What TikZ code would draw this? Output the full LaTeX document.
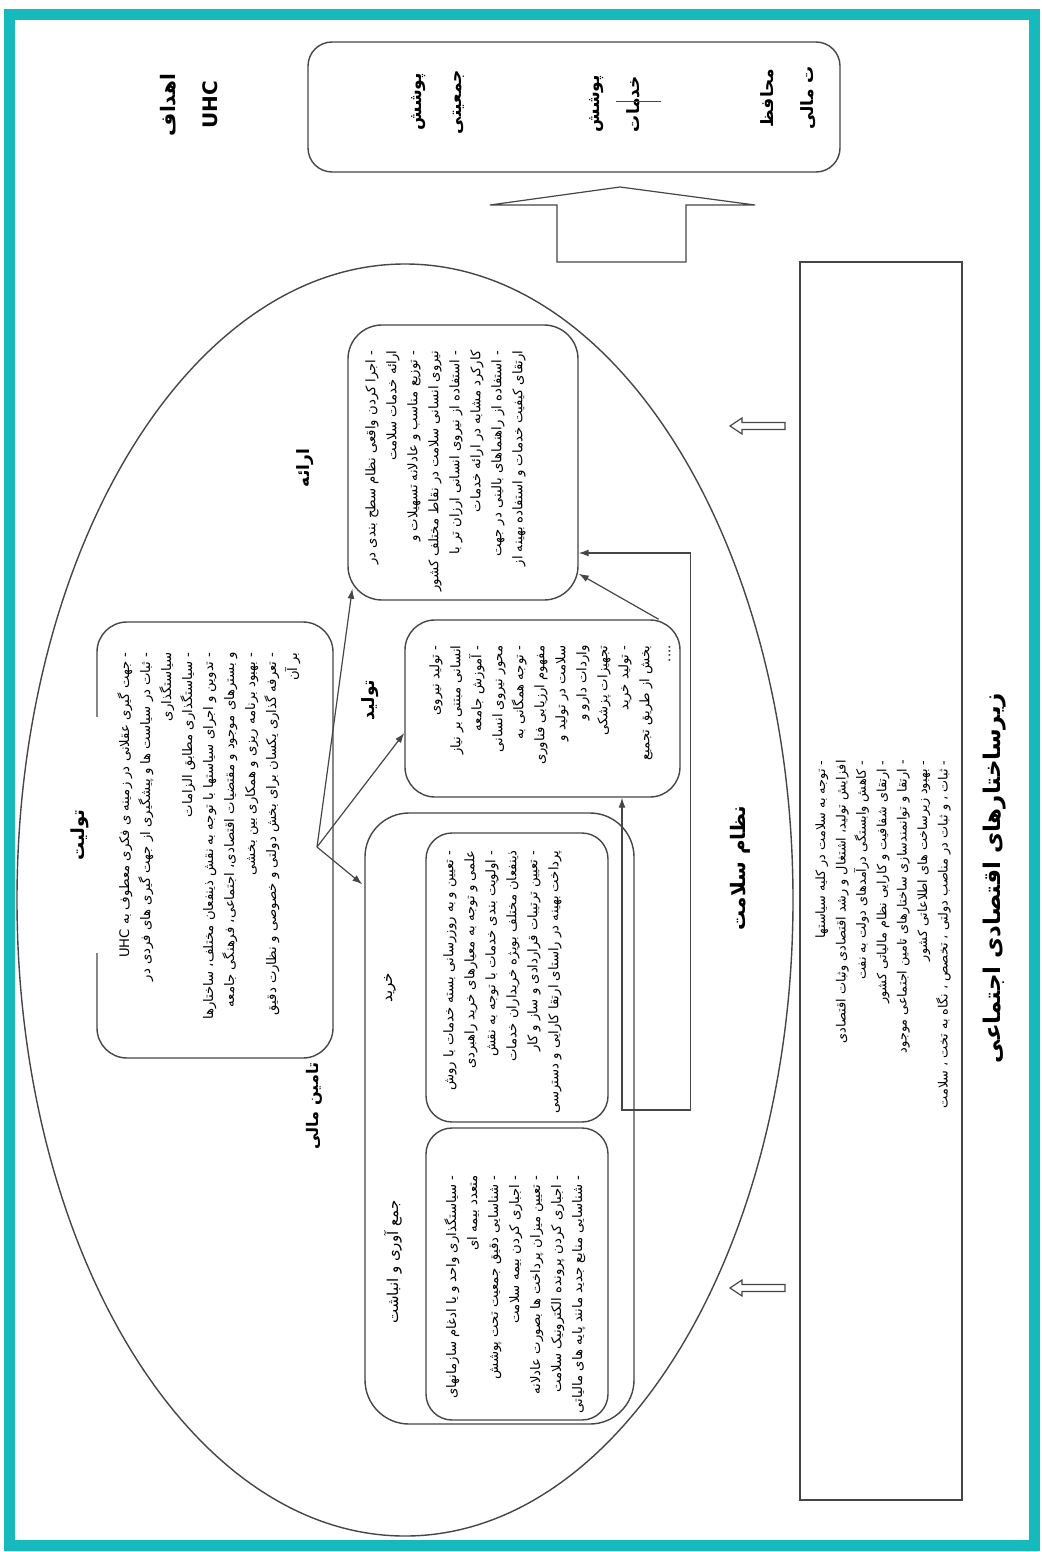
\documentclass[tikz,border=0pt]{standalone}
\usepackage{fontspec}
\usetikzlibrary{arrows.meta,shapes.geometric,calc}
\TeXXeTstate=1
\newfontfamily\fa[Script=Arabic]{DejaVu Sans}
\newcommand\myrl[1]{\beginR#1\endR}
\definecolor{framecol}{RGB}{23,186,188}
\definecolor{linecol}{RGB}{70,70,70}
\begin{document}
\begin{tikzpicture}[x=0.5pt,y=-0.5pt,
  rbox/.style={draw=linecol, line width=0.7pt, inner sep=0},
  txt/.style={font=\fa\fontsize{6.6}{10.5}\selectfont, align=right, rotate=90, inner sep=0, anchor=north east},
  lab/.style={font=\fa\bfseries\fontsize{8.5}{10}\selectfont, rotate=90, inner sep=1pt},
  conn/.style={draw=linecol, line width=0.6pt, -{Latex[length=5pt,width=3.5pt]}},
  hollowarrow/.pic={\draw[linecol, line width=0.6pt] (0,-3.5) -- (-43,-3.5) -- (-43,-8) -- (-55,0) -- (-43,8) -- (-43,3.5) -- (0,3.5) -- cycle;}
]
\useasboundingbox (0,0) rectangle (1042,1552);
\fill[white] (0,0) rectangle (1042,1552);
\draw[framecol, line width=5.5pt] (9.5,14.5) rectangle (1034,1545);

% health system ellipse
\node[draw=linecol, line width=0.7pt, ellipse, minimum width=388pt, minimum height=636pt, inner sep=0] (ell) at (405,900) {};

% goals
\node[lab, font=\fa\bfseries\fontsize{10}{21}\selectfont, align=center] (goals-lbl) at (189,105) {\myrl{اهداف}\\UHC};
\node[rbox, rounded corners=12pt, minimum width=266pt, minimum height=65pt] (goals) at (574,107) {};
\node[lab, font=\fa\bfseries\fontsize{8.5}{20}\selectfont, align=center] (cov1) at (438,102) {\myrl{پوشش}\\\myrl{جمعیتی}};
\node[lab, font=\fa\bfseries\fontsize{8.5}{20}\selectfont, align=center] (cov2) at (615,104) {\myrl{پوشش}\\\myrl{خدمات}};
\node[lab, font=\fa\bfseries\fontsize{8.5}{20}\selectfont, align=center] (cov3) at (788,98) {\myrl{محافظ}\\\myrl{ت مالی}};
\draw[linecol, line width=0.5pt] ($(cov2)+(1,-2)$) -- ($(cov2)+(46,-2)$);

% big up arrow
\draw[linecol, line width=0.6pt] (557,262) -- (557,205) -- (490,205) -- (620,187) -- (755,205) -- (686,205) -- (686,262) -- cycle;

% socio-economic box
\node[draw=linecol, line width=1pt, minimum width=81pt, minimum height=619pt, inner sep=0] (socio) at (881,881) {};
\node[txt, font=\fa\fontsize{6.4}{10.2}\selectfont] (socio-txt) at (815,760) {%
\myrl{- توجه به سلامت در کلیه سیاستها}\\
\myrl{افزایش تولید، اشتغال و رشد اقتصادی وثبات اقتصادی}\\
\myrl{- کاهش وابستگی درآمدهای دولت به نفت}\\
\myrl{- ارتقای شفافیت و کارایی نظام مالیاتی کشور}\\
\myrl{- ارتقا و توانمندسازی ساختارهای تامین اجتماعی موجود}\\
\myrl{- بهبود زیرساخت های اطلاعاتی کشور}\\
\myrl{- ثبات ، و ثبات در مناصب دولتی ، تخصص ، نگاه به تخت ، سلامت}};
\node[lab, font=\fa\bfseries\fontsize{11.5}{13}\selectfont] (socio-lbl) at (995,878) {\myrl{زیرساختارهای اقتصادی اجتماعی}};
\pic at (785,426) {hollowarrow};
\pic at (785,1288) {hollowarrow};

\node[lab, font=\fa\bfseries\fontsize{10}{12}\selectfont] (hs-lbl) at (740,868) {\myrl{نظام سلامت}};

% stewardship
\node[rbox, rounded corners=15pt, minimum width=118pt, minimum height=218pt] (tolit) at (215,840) {};
\node[lab, fill=white, font=\fa\bfseries\fontsize{9}{11}\selectfont, minimum width=118pt, minimum height=22pt] (tolit-lbl) at (80,835) {\myrl{تولیت}};
\node[txt] (tolit-txt) at (117,652) {%
\myrl{- جهت گیری عقلانی در زمینه ی فکری معطوف به UHC}\\
\myrl{- ثبات در سیاست ها و پیشگیری از جهت گیری های فردی در}\\
\myrl{سیاستگذاری}\\
\myrl{- سیاستگذاری مطابق الزامات}\\
\myrl{- تدوین و اجرای سیاستها با توجه به نقش ذینفعان مختلف، ساختارها}\\
\myrl{و بسترهای موجود و مقتضیات اقتصادی، اجتماعی، فرهنگی جامعه}\\
\myrl{- بهبود برنامه ریزی و همکاری بین بخشی}\\
\myrl{- تعرفه گذاری یکسان برای بخش دولتی و خصوصی و نظارت دقیق}\\
\myrl{بر آن}};

% provision
\node[lab] (arae-lbl) at (305,468) {\myrl{ارائه}};
\node[rbox, rounded corners=17pt, minimum width=115pt, minimum height=137.5pt] (arae) at (463,462.5) {};
\node[txt] (arae-txt) at (365,350) {%
\myrl{- اجرا کردن واقعی نظام سطح بندی در}\\
\myrl{ارائه خدمات سلامت}\\
\myrl{- توزیع مناسب و عادلانه تسهیلات و}\\
\myrl{نیروی انسانی سلامت در نقاط مختلف کشور}\\
\myrl{- استفاده از نیروی انسانی ارزان تر با}\\
\myrl{کارکرد مشابه در ارائه خدمات}\\
\myrl{- استفاده از راهنماهای بالینی در جهت}\\
\myrl{ارتقای کیفیت خدمات و استفاده بهینه از}};

% generation
\node[lab] (tolid-lbl) at (370,700) {\myrl{تولید}};
\node[rbox, rounded corners=15pt, minimum width=137.5pt, minimum height=88.5pt] (tolid) at (542.5,708.5) {};
\node[txt] (tolid-txt) at (429,645) {%
\myrl{- تولید نیروی}\\
\myrl{انسانی مبتنی بر نیاز}\\
\myrl{- آموزش جامعه}\\
\myrl{محور نیروی انسانی}\\
\myrl{- توجه همگانی به}\\
\myrl{مفهوم ارزیابی فناوری}\\
\myrl{سلامت در تولید و}\\
\myrl{واردات دارو و}\\
\myrl{تجهیزات پزشکی}\\
\myrl{- تولید خرید}\\
\myrl{بخش از طریق تجمیع}\\
\myrl{....}};

% financing
\node[lab, font=\fa\bfseries\fontsize{8}{10}\selectfont] (tamin-lbl) at (314,1106) {\myrl{تامین مالی}};
\node[rbox, rounded corners=22pt, minimum width=134.5pt, minimum height=305.5pt] (tamin) at (499.5,1118.5) {};
\node[font=\fa\fontsize{7.5}{9}\selectfont, rotate=90, inner sep=1pt] (kharid-lbl) at (390,988) {\myrl{خرید}};
\node[font=\fa\fontsize{7.5}{9}\selectfont, rotate=90, inner sep=1pt] (jam-lbl) at (393,1262) {\myrl{جمع آوری و انباشت}};
\node[rbox, rounded corners=13pt, minimum width=91pt, minimum height=144.5pt] (kharid) at (517,977.5) {};
\node[rbox, rounded corners=13pt, minimum width=91pt, minimum height=146pt] (jam) at (517,1274) {};
\node[txt] (kharid-txt) at (443,850) {%
\myrl{- تعیین و به روزرسانی بسته خدمات با روش}\\
\myrl{علمی و توجه به معیارهای خرید راهبردی}\\
\myrl{- اولویت بندی خدمات با توجه به نقش}\\
\myrl{ذینفعان مختلف بویژه خریداران خدمات}\\
\myrl{- تعیین ترتیبات قراردادی و ساز و کار}\\
\myrl{پرداخت بهینه در راستای ارتقا کارایی و دسترسی}};
\node[txt] (jam-txt) at (444,1175) {%
\myrl{- سیاستگذاری واحد و یا ادغام سازمانهای}\\
\myrl{متعدد بیمه ای}\\
\myrl{- شناسایی دقیق جمعیت تحت پوشش}\\
\myrl{- اجباری کردن بیمه سلامت}\\
\myrl{- تعیین میزان پرداخت ها بصورت عادلانه}\\
\myrl{- اجباری کردن پرونده الکترونیک سلامت}\\
\myrl{- شناسایی منابع جدید مانند پایه های مالیاتی}};

% connectors
\coordinate (hub) at (317,847);
\draw[conn] (hub) -- ($(arae.south west)+(5,-12)$);
\draw[conn] (hub) -- ($(tolid.west)+(0,24.5)$);
\draw[conn] (hub) -- ($(tamin.north west)+(-2,72)$);
\draw[conn] ($(tolid.north east)+(-22,0)$) -- ($(arae.south east)+(0,-27)$);
\coordinate (loop) at (622,1110);
\draw[conn, {Latex[length=5pt,width=3.5pt]}-{Latex[length=5pt,width=3.5pt]}] (tolid.south -| loop) -- (loop) -| ($(arae.east)+(112,90.5)$) -- ($(arae.east)+(0,90.5)$);
\end{tikzpicture}
\end{document}
